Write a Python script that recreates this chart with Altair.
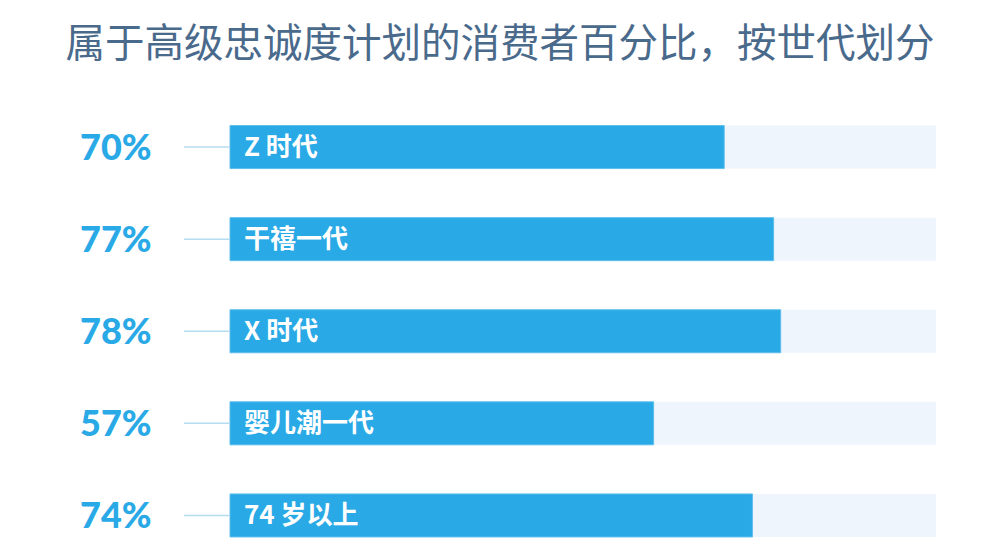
import altair as alt
import pandas as pd

title_text = "属于高级忠诚度计划的消费者百分比，按世代划分"
generations = ["Z 时代", "干禧一代", "X 时代", "婴儿潮一代", "74 岁以上"]
pct_labels = [70, 77, 78, 57, 74]
bar_values = [70, 77, 78, 60, 74]   # bar lengths as drawn in the reference
full = [100, 100, 100, 100, 100]

df = pd.DataFrame({
    "gen": generations,
    "val": bar_values,
    "full": full,
    "label": [f"{p}%" for p in pct_labels],
})

BLUE = "#29A9E6"

xs = alt.Scale(domain=[0, 100], range=[222, 928])
ys = alt.Scale(range=[93, 553.5], paddingInner=0.533, paddingOuter=0.2665)
Y = alt.Y("gen:N", sort=generations, scale=ys, axis=None)

base = alt.Chart(df)

bg = base.mark_bar(color="#EEF5FC").encode(
    x=alt.X("zero:Q", scale=xs, axis=None),
    x2="full:Q",
    y=Y,
).transform_calculate(zero="0")

bars = base.mark_bar(color=BLUE, stroke="#5DBEEC", strokeWidth=1).encode(
    x=alt.X("val:Q", scale=xs, axis=None),
    y=Y,
)

connector = base.mark_rule(color="#B5DDF2", strokeWidth=1.5).encode(
    x=alt.value(176),
    x2=alt.value(222),
    y=Y,
)

pct = base.mark_text(
    align="left", baseline="middle", font="Lato", fontWeight=900,
    fontSize=36, color=BLUE, dy=2,
).encode(
    x=alt.value(72),
    y=Y,
    text="label:N",
)

inner = base.mark_text(
    align="left", baseline="middle", font="Noto Sans CJK SC", fontWeight="bold",
    fontSize=26, color="white", dy=1,
).encode(
    x=alt.value(236),
    y=Y,
    text="gen:N",
)

title = alt.Chart(pd.DataFrame({"t": [title_text]})).mark_text(
    align="center", baseline="middle", font="Noto Sans CJK SC",
    fontSize=39.5, color="#4A6A8C",
).encode(
    x=alt.value(492),
    y=alt.value(37),
    text="t:N",
)

chart = alt.layer(bg, bars, connector, pct, inner, title).properties(
    width=984, height=544,
    autosize=alt.AutoSizeParams(type="none"),
    padding=0,
).configure_view(stroke=None)

chart.save("out.html", embed_options={"renderer": "svg", "actions": False})
